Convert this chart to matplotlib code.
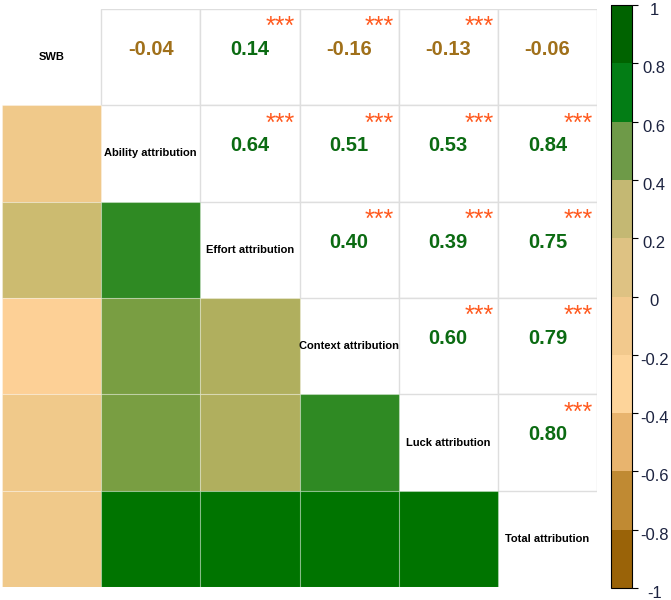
import numpy as np
import matplotlib
matplotlib.use("Agg")
import matplotlib.pyplot as plt
from matplotlib.colors import ListedColormap, BoundaryNorm
from matplotlib.cm import ScalarMappable
from matplotlib.patches import Rectangle
from matplotlib import transforms

plt.rcParams['font.family'] = ['Liberation Sans', 'DejaVu Sans']

# variables and correlation values (upper triangle, row by row)
labels = ["SWB", "Ability attribution", "Effort attribution",
          "Context attribution", "Luck attribution", "Total attribution"]
swb_r = [-0.04, 0.14, -0.16, -0.13, -0.06]
ability_r = [0.64, 0.51, 0.53, 0.84]
effort_r = [0.40, 0.39, 0.75]
context_r = [0.60, 0.79]
luck_r = [0.80]
upper_rows = [swb_r, ability_r, effort_r, context_r, luck_r]

# significance stars, same layout
swb_sig = ["", "***", "***", "***", ""]
ability_sig = ["***", "***", "***", "***"]
effort_sig = ["***", "***", "***"]
context_sig = ["***", "***"]
luck_sig = ["***"]
sig_rows = [swb_sig, ability_sig, effort_sig, context_sig, luck_sig]

n = len(labels)
corr = np.eye(n)
stars = [["" for _ in range(n)] for _ in range(n)]
for i in range(n - 1):
    for k, v in enumerate(upper_rows[i]):
        j = i + 1 + k
        corr[i, j] = corr[j, i] = v
        stars[i][j] = sig_rows[i][k]

# colours for the filled cells
cell_colors = ["#9a6308", "#c08a33", "#fdd096", "#f0c98a", "#ccbb70",
               "#b0af5e", "#799e42", "#2f8a23", "#007400"]
cell_bounds = [-1, -0.8, -0.6, -0.15, 0, 0.3, 0.45, 0.58, 0.7, 1.0001]
cell_cmap = ListedColormap(cell_colors)
cell_norm = BoundaryNorm(cell_bounds, cell_cmap.N)

# colours of the legend bar
bar_colors = ["#9a6308", "#c08a33", "#e8b46e", "#fdd49a", "#f2c98d",
              "#dec283", "#c4b873", "#6e9a48", "#037d15", "#006300"]
bar_bounds = np.linspace(-1, 1, 11)
bar_cmap = ListedColormap(bar_colors)
bar_norm = BoundaryNorm(bar_bounds, bar_cmap.N)

W, H = 671, 600
fig = plt.figure(figsize=(W / 100, H / 100), dpi=100)
ax = fig.add_axes([2 / W, 1 - 587 / H, 595 / W, 578 / H])
ax.set_xlim(0, n)
ax.set_ylim(n, 0)
ax.axis("off")

pos_col = "#0b6b12"
neg_col = "#a0701a"
for i in range(n):
    for j in range(n):
        v = corr[i, j]
        if j < i:
            ax.add_patch(Rectangle((j, i), 1, 1,
                                   facecolor=cell_cmap(cell_norm(v)),
                                   edgecolor=(1, 1, 1, 0.3), linewidth=0.8))
        elif j > i:
            ax.add_patch(Rectangle((j, i), 1, 1, facecolor="white",
                                   edgecolor="#dedede", linewidth=1))
            ax.text(j + 0.5, i + 0.42, f"{v:.2f}", ha="center", va="center",
                    fontsize=14.5, fontweight="bold",
                    color=pos_col if v >= 0 else neg_col)
            if stars[i][j]:
                ax.text(j + 0.955, i + 0.065, stars[i][j], ha="right", va="top",
                        fontsize=18, fontweight="normal", color="#ff5a1f")
        else:
            ax.text(j + 0.5, i + 0.5, labels[i], ha="center", va="center",
                    fontsize=8, fontweight="bold", color="black")

cax = fig.add_axes([611 / W, 1 - 588 / H, 21 / W, 583 / H])
sm = ScalarMappable(norm=bar_norm, cmap=bar_cmap)
cb = fig.colorbar(sm, cax=cax, ticks=bar_bounds)
cb.outline.set_linewidth(0.8)
cb.ax.set_yticklabels([f"{t:g}" if abs(t) > 1e-9 else "0" for t in np.round(bar_bounds, 1)])
cb.ax.tick_params(length=4, width=0.8, labelsize=12, colors="black",
                  labelcolor="#1c2340", pad=2)
offset = transforms.ScaledTranslation(0.14, -0.04, fig.dpi_scale_trans)
for lab in cb.ax.get_yticklabels():
    lab.set_horizontalalignment("center")
    lab.set_transform(lab.get_transform() + offset)

fig.savefig("out.png", dpi=100)
